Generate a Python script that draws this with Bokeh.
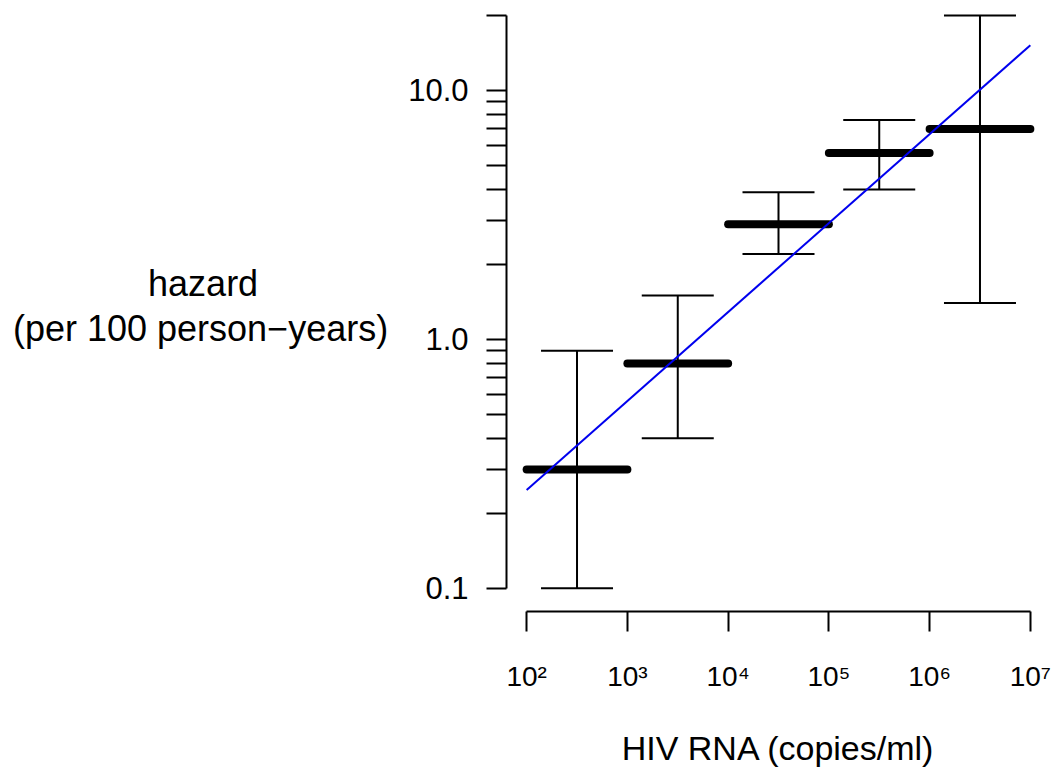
from bokeh.plotting import figure
from bokeh.models import Range1d, FixedTicker, Whisker, TeeHead, ColumnDataSource
from bokeh.embed import file_html
from bokeh.resources import INLINE

# ---- data ----
rna_lo = [1e2, 1e3, 1e4, 1e5, 1e6]
rna_hi = [1e3, 1e4, 1e5, 1e6, 1e7]
hazard = [0.30, 0.80, 2.9, 5.6, 7.0]
ci_lower = [0.10, 0.40, 2.2, 4.0, 1.4]
ci_upper = [0.90, 1.50, 3.9, 7.6, 20.0]
fit_rna = [1e2, 1e7]
fit_hazard = [0.248, 15.2]

x_ticks = [100, 1000, 10000, 100000, 1000000, 10000000]
x_tick_labels = ["10²", "10³", "10⁴", "10⁵", "10⁶", "10⁷"]
y_ticks = [0.1, 0.2, 0.3, 0.4, 0.5, 0.6, 0.7, 0.8, 0.9,
           1, 2, 3, 4, 5, 6, 7, 8, 9, 10, 20]
y_tick_labels = {0.1: "0.1", 1: "1.0", 10: "10.0"}

FONT = "Liberation Sans"
NBSP = "\u00a0"

p = figure(width=1058, height=769, x_axis_type="log", y_axis_type="log",
           x_range=Range1d(10 ** 1.8, 10 ** 7.2),
           y_range=Range1d(10 ** -1.0935, 10 ** 1.3612),
           output_backend="svg", toolbar_location=None,
           min_border_left=506, min_border_right=8,
           min_border_top=0, min_border_bottom=158)
p.outline_line_color = None
p.xgrid.visible = False
p.ygrid.visible = False
p.background_fill_color = "white"
p.border_fill_color = "white"

# x axis
xa = p.xaxis[0]
xa.ticker = FixedTicker(ticks=x_ticks, minor_ticks=[])
xa.major_label_overrides = {t: l for t, l in zip(x_ticks, x_tick_labels)}
xa.bounds = (x_ticks[0], x_ticks[-1])
xa.axis_line_width = 2
xa.major_tick_line_width = 2
xa.major_tick_in = 0
xa.major_tick_out = 20
xa.minor_tick_line_color = None
xa.major_label_text_font = FONT
xa.major_label_text_font_size = "28px"
xa.major_label_text_color = "black"
xa.major_label_standoff = 29
xa.axis_label = "HIV RNA (copies/ml)"
xa.axis_label_text_font = FONT
xa.axis_label_text_font_size = "34px"
xa.axis_label_text_font_style = "normal"
xa.axis_label_text_color = "black"
xa.axis_label_standoff = 34

# y axis
ya = p.yaxis[0]
ya.ticker = FixedTicker(ticks=y_ticks, minor_ticks=[])
ya.major_label_overrides = {t: y_tick_labels.get(t, "") for t in y_ticks}
ya.bounds = (y_ticks[0], y_ticks[-1])
ya.axis_line_width = 2
ya.major_tick_line_width = 2
ya.major_tick_in = 0
ya.major_tick_out = 20
ya.minor_tick_line_color = None
ya.major_label_text_font = FONT
ya.major_label_text_font_size = "31px"
ya.major_label_text_color = "black"
ya.major_label_standoff = 18
# trailing no-break spaces keep the short first line centred over the second
ya.axis_label = "hazard" + NBSP * 13 + "\n(per 100 person\u2212years)"
ya.axis_label_orientation = "horizontal"
ya.axis_label_text_font = FONT
ya.axis_label_text_font_size = "36px"
ya.axis_label_text_font_style = "normal"
ya.axis_label_text_color = "black"
ya.axis_label_text_line_height = 1.1
ya.axis_label_standoff = 17

# error bars
base = [(a * b) ** 0.5 for a, b in zip(rna_lo, rna_hi)]
src = ColumnDataSource(dict(base=base, lower=ci_lower, upper=ci_upper))
wh = Whisker(source=src, base="base", lower="lower", upper="upper",
             dimension="height", line_width=2, line_color="black",
             upper_head=TeeHead(size=72, line_width=2, line_color="black"),
             lower_head=TeeHead(size=72, line_width=2, line_color="black"))
p.add_layout(wh)

# hazard estimates (thick horizontal bars)
p.segment(x0=rna_lo, x1=rna_hi, y0=hazard, y1=hazard,
          line_width=8, line_cap="round", line_color="black")

# fitted line
p.line(fit_rna, fit_hazard, line_width=2, line_color="#0000ee")

open("out.html", "w").write(file_html(p, INLINE))
